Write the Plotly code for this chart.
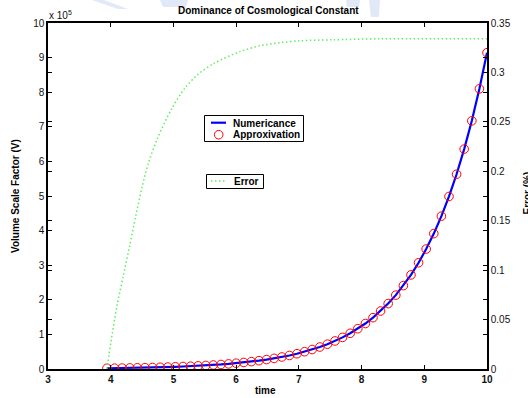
import plotly.graph_objects as go

# Canvas and plot-area geometry (pixels)
W, H = 528, 398
M_L, M_R, M_T, M_B = 48, 41, 23, 29
PW = W - M_L - M_R
PH = H - M_T - M_B


def fx(px):
    """Horizontal pixel -> paper fraction."""
    return (px - M_L) / PW


def fy(py):
    """Vertical pixel (from top) -> paper fraction."""
    return (H - M_B - py) / PH


FONT = "Liberation Sans, Arial, Helvetica, sans-serif"

# Sampled times of the solution
time_grid = [3.940, 4.061, 4.182, 4.304, 4.425, 4.546, 4.667, 4.788, 4.910, 5.031,
             5.152, 5.273, 5.394, 5.516, 5.637, 5.758, 5.879, 6.000, 6.122, 6.243,
             6.364, 6.485, 6.606, 6.728, 6.849, 6.970, 7.091, 7.212, 7.334, 7.455,
             7.576, 7.697, 7.818, 7.940, 8.061, 8.182, 8.303, 8.424, 8.546, 8.667,
             8.788, 8.909, 9.030, 9.152, 9.273, 9.394, 9.515, 9.636, 9.758, 9.879,
             10.000]

# Volume scale factor V, in units of 1e5
volume_e5 = [0.021, 0.024, 0.027, 0.031, 0.035, 0.039, 0.044, 0.050, 0.056, 0.064,
             0.072, 0.081, 0.091, 0.103, 0.116, 0.131, 0.148, 0.168, 0.189, 0.213,
             0.241, 0.272, 0.307, 0.347, 0.391, 0.442, 0.499, 0.563, 0.635, 0.717,
             0.810, 0.914, 1.032, 1.165, 1.315, 1.484, 1.675, 1.891, 2.135, 2.410,
             2.720, 3.071, 3.467, 3.913, 4.418, 4.987, 5.629, 6.355, 7.173, 8.098,
             9.141]

# Relative error of the approximation (%)
err_time = [3.94, 4.00, 4.10, 4.20, 4.30, 4.40, 4.50, 4.60, 4.75, 4.97,
            5.18, 5.39, 5.64, 6.06, 6.38, 6.70, 7.01, 7.54, 8.29, 10.0]
err_pct = [0.000, 0.026, 0.064, 0.094, 0.124, 0.155, 0.184, 0.208, 0.234, 0.263,
           0.284, 0.298, 0.309, 0.321, 0.327, 0.330, 0.332, 0.333, 0.334, 0.334]

x_ticks = [3, 4, 5, 6, 7, 8, 9, 10]
y_ticks = [0, 1, 2, 3, 4, 5, 6, 7, 8, 9, 10]
y2_ticks = [0, 0.05, 0.1, 0.15, 0.2, 0.25, 0.3, 0.35]
y2_labels = ["0", "0.05", "0.1", "0.15", "0.2", "0.25", "0.3", "0.35"]

BLUE = "rgb(0,0,255)"
RED = "rgb(255,0,0)"
GREEN = "rgb(95,238,95)"
WATERMARK = "rgba(200,214,240,0.55)"

fig = go.Figure()

fig.add_trace(go.Scatter(x=time_grid, y=volume_e5, mode="lines",
                         line=dict(color=BLUE, width=2.2),
                         name="Numericance", yaxis="y"))
fig.add_trace(go.Scatter(x=time_grid, y=volume_e5, mode="markers",
                         marker=dict(symbol="circle-open", size=8.6,
                                     color=RED, line=dict(color=RED, width=1)),
                         name="Approxivation", yaxis="y"))
fig.add_trace(go.Scatter(x=err_time, y=err_pct, mode="lines",
                         line=dict(color=GREEN, width=1.5, dash="1.5px,2.5px",
                                   shape="spline", smoothing=0.8),
                         name="Error", yaxis="y2"))

axis_common = dict(
    ticks="inside", ticklen=4, tickwidth=1, tickcolor="black",
    showline=True, linewidth=1.5, linecolor="black", mirror="ticks",
    showgrid=False, zeroline=False,
)
tick_font = dict(family=FONT, size=10, color="#111")

fig.update_layout(
    width=W, height=H,
    margin=dict(l=M_L, r=M_R, t=M_T, b=M_B, pad=0),
    paper_bgcolor="white", plot_bgcolor="white",
    showlegend=False,
    font=dict(family=FONT, size=10, color="black"),
    xaxis=dict(range=[3, 10], tickvals=x_ticks,
               tickfont=dict(tick_font, weight="bold"), **axis_common),
    yaxis=dict(range=[0, 10], tickvals=y_ticks, tickfont=tick_font, **axis_common),
    yaxis2=dict(range=[0, 0.35], tickvals=y2_ticks, ticktext=y2_labels,
                overlaying="y", side="right", tickfont=tick_font, **axis_common),
)

annotations = [
    dict(text="<b>Dominance of Cosmological Constant</b>", x=fx(268), y=fy(11),
         font=dict(size=10)),
    dict(text="<b>time</b>", x=fx(265), y=fy(391), font=dict(size=10)),
    dict(text="<b>Volume Scale Factor (V)</b>", x=fx(15), y=fy(196),
         textangle=-90, font=dict(size=10)),
    dict(text="<b>Error (%)</b>", x=fx(526.5), y=fy(193),
         textangle=-90, font=dict(size=10)),
    dict(text="x 10<sup>5</sup>", x=fx(47), y=fy(15), xanchor="left",
         font=dict(size=10, color="#111")),
    # legend texts
    dict(text="<b>Numericance</b>", x=fx(231), y=fy(123.5), xanchor="left",
         font=dict(size=10)),
    dict(text="<b>Approxivation</b>", x=fx(231), y=fy(134.5), xanchor="left",
         font=dict(size=10)),
    dict(text="<b>Error</b>", x=fx(232), y=fy(181), xanchor="left",
         font=dict(size=10)),
]
for a in annotations:
    a.setdefault("xref", "paper")
    a.setdefault("yref", "paper")
    a.setdefault("showarrow", False)
    a.setdefault("xanchor", "center")
    a.setdefault("yanchor", "middle")
fig.update_layout(annotations=annotations)


def px_path(points):
    """SVG path in paper coordinates from a list of pixel points."""
    return "M " + " L ".join(f"{fx(x):.4f},{fy(y):.4f}" for x, y in points) + " Z"


shapes = [
    # faint page watermark strokes in the top margin
    dict(type="path", path=px_path([(92, 0), (104, 0), (128, 9), (118, 9)]),
         fillcolor=WATERMARK, line=dict(width=0), layer="below"),
    dict(type="path", path=px_path([(160, 0), (188, 0), (186, 7), (163, 7)]),
         fillcolor=WATERMARK, line=dict(width=0), layer="below"),
    dict(type="path", path=px_path([(346, 0), (360, 0), (359, 7), (347, 7)]),
         fillcolor=WATERMARK, line=dict(width=0), layer="below"),
    dict(type="path", path=px_path([(369, 0), (380, 0), (379, 17), (371, 17)]),
         fillcolor=WATERMARK, line=dict(width=0), layer="below"),
    # legend frames
    dict(type="rect", x0=fx(204.5), x1=fx(303.5), y0=fy(141.5), y1=fy(115.5),
         line=dict(color="black", width=1), fillcolor="white", layer="above"),
    dict(type="rect", x0=fx(206.5), x1=fx(263.5), y0=fy(188.5), y1=fy(174.5),
         line=dict(color="black", width=1), fillcolor="white", layer="above"),
    # legend samples
    dict(type="line", x0=fx(211), x1=fx(226), y0=fy(122.7), y1=fy(122.7),
         line=dict(color=BLUE, width=2.2), layer="above"),
    dict(type="circle", x0=fx(214.4), x1=fx(223), y0=fy(139), y1=fy(130.4),
         line=dict(color=RED, width=1), layer="above"),
    dict(type="line", x0=fx(211), x1=fx(227), y0=fy(181), y1=fy(181),
         line=dict(color=GREEN, width=1.5, dash="1.5px,2.5px"), layer="above"),
]
for s in shapes:
    s["xref"] = "paper"
    s["yref"] = "paper"
fig.update_layout(shapes=shapes)

fig.write_html("out.html")
